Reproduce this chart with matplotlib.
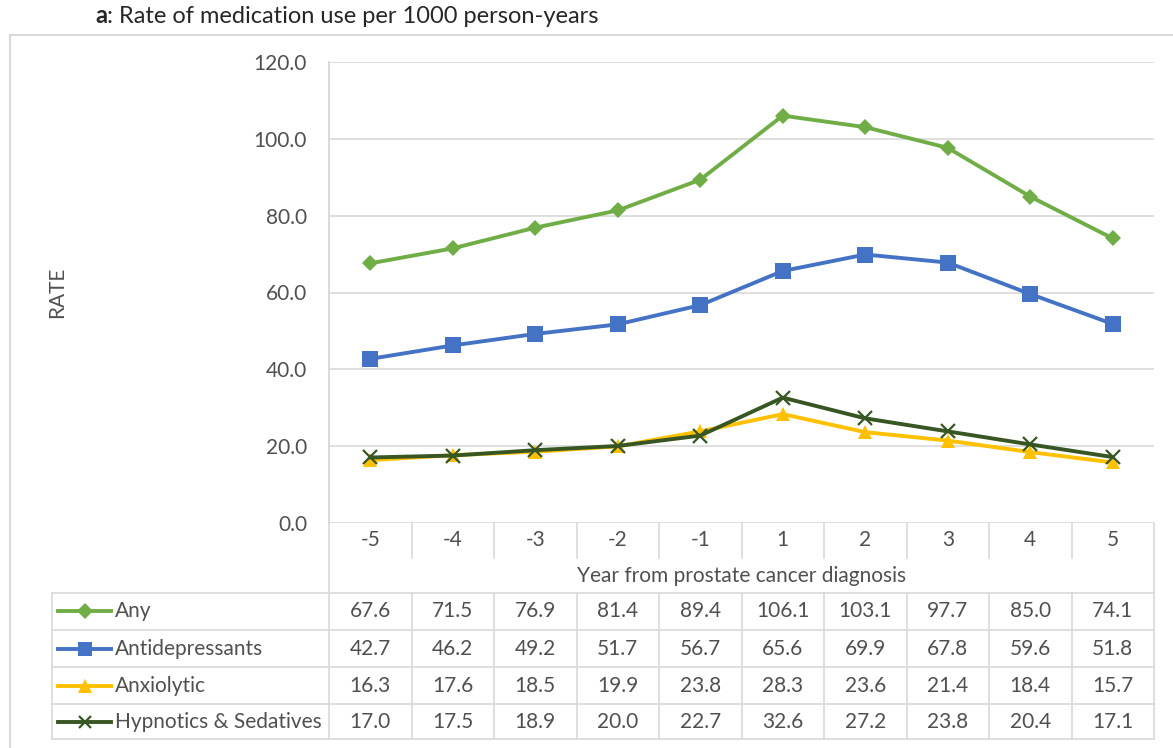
import matplotlib
matplotlib.use("Agg")
import matplotlib.pyplot as plt
from matplotlib.lines import Line2D

plt.rcParams['font.family'] = ['Lato', 'DejaVu Sans']

# ---- data ----
years = ["-5", "-4", "-3", "-2", "-1", "1", "2", "3", "4", "5"]
series_names = ["Any", "Antidepressants", "Anxiolytic", "Hypnotics & Sedatives"]
any_use = [67.6, 71.5, 76.9, 81.4, 89.4, 106.1, 103.1, 97.7, 85.0, 74.1]
antidepressants = [42.7, 46.2, 49.2, 51.7, 56.7, 65.6, 69.9, 67.8, 59.6, 51.8]
anxiolytic = [16.3, 17.6, 18.5, 19.9, 23.8, 28.3, 23.6, 21.4, 18.4, 15.7]
hypnotics = [17.0, 17.5, 18.9, 20.0, 22.7, 32.6, 27.2, 23.8, 20.4, 17.1]
y_ticks = [0, 20, 40, 60, 80, 100, 120]

series_values = [any_use, antidepressants, anxiolytic, hypnotics]
styles = [
    dict(color="#70AD47", marker="D", ms=8.5, mew=0),
    dict(color="#4472C4", marker="s", ms=11.5, mew=0),
    dict(color="#FFC000", marker="^", ms=10.5, mew=0),
    dict(color="#375623", marker="x", ms=10, mew=1.6),
]

W, H = 1173, 748
DPI = 100
TXT = "#505050"
GRID = "#D9D9D9"
FS = 15

fig = plt.figure(figsize=(W / DPI, H / DPI), dpi=DPI)

# pixel-based overlay for frame, table and titles
ov = fig.add_axes([0, 0, 1, 1])
ov.set_xlim(0, W)
ov.set_ylim(H, 0)
ov.axis("off")

# plot area geometry (pixels)
px_l, px_r = 329, 1154
py_t, py_b = 62.3, 522.7
ncol = len(years)
colw = (px_r - px_l) / ncol

ax = fig.add_axes([px_l / W, 1 - py_b / H, (px_r - px_l) / W, (py_b - py_t) / H])
ax.set_xlim(-0.5, ncol - 0.5)
ax.set_ylim(0, 120)
ax.set_yticks(y_ticks)
ax.set_yticklabels([f"{v:.1f}" for v in y_ticks], color=TXT, fontsize=FS)
ax.tick_params(axis="y", length=0, pad=15.8)
ax.set_xticks([])
ax.grid(axis="y", color=GRID, lw=1.2)
ax.set_axisbelow(True)
for s in ["top", "right", "bottom"]:
    ax.spines[s].set_visible(False)
ax.spines["left"].set_color(GRID)
ax.spines["left"].set_linewidth(1.2)
ax.patch.set_alpha(0)

xs = list(range(ncol))
for vals, st in zip(series_values, styles):
    ax.plot(xs, vals, color=st["color"], lw=2.8, marker=st["marker"],
            markersize=st["ms"], markeredgewidth=st["mew"],
            markerfacecolor=st["color"], markeredgecolor=st["color"],
            solid_joinstyle="round", zorder=3)

# outer chart frame
ov.plot([10, W], [35, 35], color=GRID, lw=1.5)
ov.plot([10, 10], [35, H], color=GRID, lw=1.5)

# title
t_a = ov.text(95, 23, "a", fontsize=17, fontweight="bold", color="#262626",
              va="baseline", ha="left")
ov.annotate(": Rate of medication use per 1000 person-years", xy=(1, 0),
            xycoords=t_a, va="bottom", ha="left", fontsize=17, color="#262626")

# y-axis title
ov.text(57, 292, "RATE", rotation=90, fontsize=FS, color=TXT,
        ha="center", va="center")

# category row under the plot
row_tick_b = 558
ov.plot([px_l, px_l], [py_t, 739.3], color=GRID, lw=1.2)
ov.plot([px_r, px_r], [py_b, 739.3], color=GRID, lw=1.2)
for k in range(1, ncol):
    x = px_l + k * colw
    ov.plot([x, x], [py_b, row_tick_b], color=GRID, lw=1.2)
for k, lab in enumerate(years):
    ov.text(px_l + (k + 0.5) * colw, 540, lab, fontsize=FS, color=TXT,
            ha="center", va="center")
ov.text((px_l + px_r) / 2, 576, "Year from prostate cancer diagnosis",
        fontsize=FS, color=TXT, ha="center", va="center")

# data table
row_edges = [592.7, 630.0, 667.3, 704.0, 739.3]
tbl_l = 52
for y in row_edges:
    ov.plot([tbl_l, px_r], [y, y], color=GRID, lw=1.2)
ov.plot([tbl_l, tbl_l], [row_edges[0], row_edges[-1]], color=GRID, lw=1.2)
for k in range(1, ncol):
    x = px_l + k * colw
    ov.plot([x, x], [row_edges[0], row_edges[-1]], color=GRID, lw=1.2)

for r, (name, vals, st) in enumerate(zip(series_names, series_values, styles)):
    yc = (row_edges[r] + row_edges[r + 1]) / 2
    ov.add_line(Line2D([58, 111], [yc, yc], color=st["color"], lw=2.8))
    ov.add_line(Line2D([84.5], [yc], color=st["color"], marker=st["marker"],
                       markersize=st["ms"] * 0.9, markeredgewidth=st["mew"],
                       markerfacecolor=st["color"], markeredgecolor=st["color"],
                       lw=0))
    ov.text(115, yc, name, fontsize=FS, color=TXT, ha="left", va="center")
    for k, v in enumerate(vals):
        ov.text(px_l + (k + 0.5) * colw, yc, f"{v:.1f}", fontsize=FS,
                color=TXT, ha="center", va="center")

fig.savefig("out.png", dpi=DPI, facecolor="white")
